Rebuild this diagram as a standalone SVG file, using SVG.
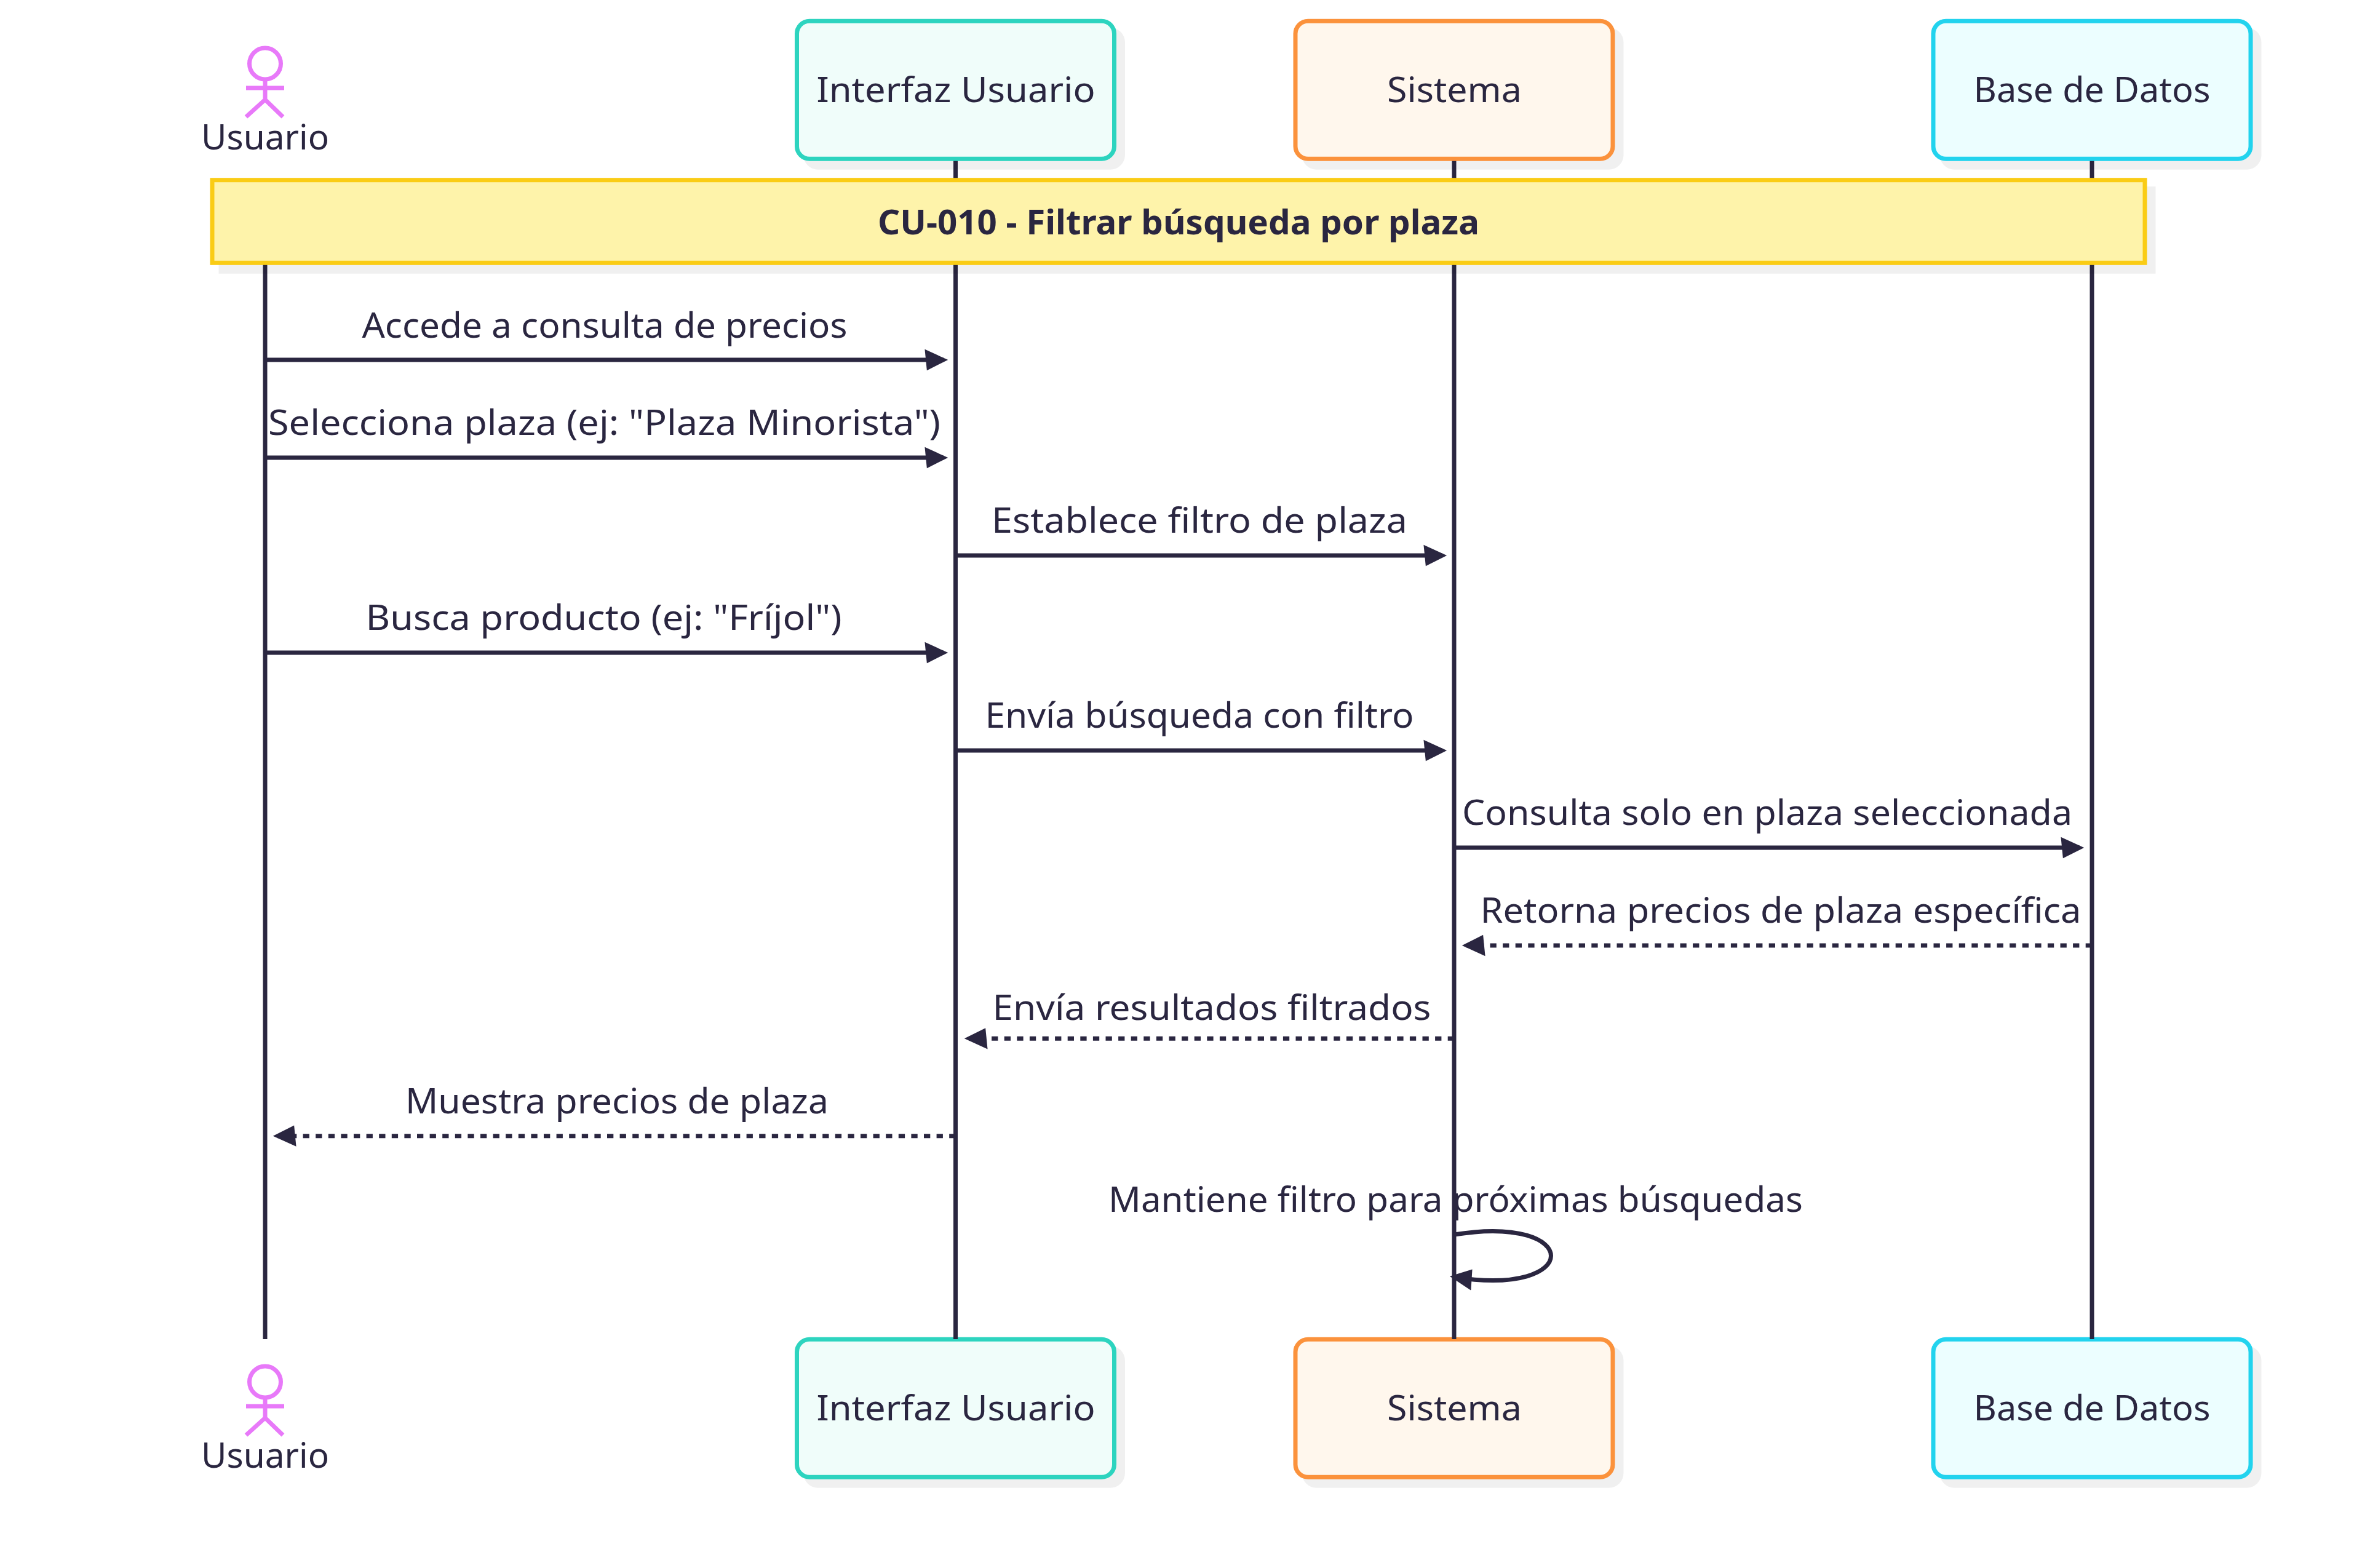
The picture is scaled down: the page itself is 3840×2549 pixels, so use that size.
<svg xmlns="http://www.w3.org/2000/svg" width="3840" height="2549" viewBox="0 0 3840 2549">
<style>
text{font-family:"Noto Sans","Open Sans","Liberation Sans",sans-serif;font-size:56px;fill:#2a2640;text-anchor:middle}
.b{font-weight:700}
.sh{fill:#000;fill-opacity:.06;stroke:none}
.life{stroke:#2a2640;stroke-width:7;fill:none}
.msg{stroke:#2a2640;stroke-width:7;fill:none;marker-end:url(#arrow)}
.dash{stroke-dasharray:10.3 10.3}
.ac{stroke:#e879f9;stroke-width:7;fill:none}
.teal{fill:#f0fdfa;stroke:#2dd4bf;stroke-width:7}
.or{fill:#fff7ed;stroke:#fb923c;stroke-width:7}
.cy{fill:#ecfeff;stroke:#22d3ee;stroke-width:7}
.note{fill:#fef3aa;stroke:#facc15;stroke-width:7}
</style>
<defs>
<marker id="arrow" viewBox="-1 0 12 10" refX="7.9" refY="5" markerUnits="userSpaceOnUse" markerWidth="41.2" markerHeight="41.2" orient="auto"><path d="M-1 0L10 5L0 10z" fill="#2a2640"/></marker>
<g id="stick"><circle cx="431" cy="103.5" r="25.5" class="ac"/><path class="ac" d="M431 129V162M400 143H462M431 162L400 190M431 162L460 190"/></g>
</defs>
<rect width="3840" height="2549" fill="#fff"/>
<g id="actor-usuario-bottom"><use href="#stick" y="2143"/><text x="431" y="2386" textLength="208" lengthAdjust="spacingAndGlyphs">Usuario</text></g>
<g id="actor-interfaz-bottom"><rect class="sh" x="1306" y="2187.8" width="523" height="231" rx="24"/><rect class="teal" x="1295.5" y="2177.3" width="516" height="224" rx="20.6"/><text x="1554" y="2308.5" textLength="453" lengthAdjust="spacingAndGlyphs">Interfaz Usuario</text></g>
<g id="actor-sistema-bottom"><rect class="sh" x="2116.5" y="2187.8" width="523" height="231" rx="24"/><rect class="or" x="2106" y="2177.3" width="516" height="224" rx="20.6"/><text x="2364.5" y="2308.5" textLength="219" lengthAdjust="spacingAndGlyphs">Sistema</text></g>
<g id="actor-bd-bottom"><rect class="sh" x="3153.5" y="2187.8" width="523" height="231" rx="24"/><rect class="cy" x="3143" y="2177.3" width="516" height="224" rx="20.6"/><text x="3401" y="2308.5" textLength="385" lengthAdjust="spacingAndGlyphs">Base de Datos</text></g>
<g id="lifelines">
<path class="life" d="M431 2177V428M1553.5 2177V261M2364 2177V261M3401 2177V261"/>
</g>
<g id="actor-usuario-top"><use href="#stick"/><text x="431" y="243" textLength="208" lengthAdjust="spacingAndGlyphs">Usuario</text></g>
<g id="actor-interfaz-top"><rect class="sh" x="1306" y="44.8" width="523" height="231" rx="24"/><rect class="teal" x="1295.5" y="34.3" width="516" height="224" rx="20.6"/><text x="1554" y="165.5" textLength="453" lengthAdjust="spacingAndGlyphs">Interfaz Usuario</text></g>
<g id="actor-sistema-top"><rect class="sh" x="2116.5" y="44.8" width="523" height="231" rx="24"/><rect class="or" x="2106" y="34.3" width="516" height="224" rx="20.6"/><text x="2364.5" y="165.5" textLength="219" lengthAdjust="spacingAndGlyphs">Sistema</text></g>
<g id="actor-bd-top"><rect class="sh" x="3153.5" y="44.8" width="523" height="231" rx="24"/><rect class="cy" x="3143" y="34.3" width="516" height="224" rx="20.6"/><text x="3401" y="165.5" textLength="385" lengthAdjust="spacingAndGlyphs">Base de Datos</text></g>
<g id="note"><rect class="sh" x="355.5" y="303.2" width="3149" height="141.6"/><rect class="note" x="345" y="292.7" width="3142" height="134.6"/><text class="b" x="1916" y="380.5" textLength="978" lengthAdjust="spacingAndGlyphs">CU-010 - Filtrar búsqueda por plaza</text></g>
<g id="connectors">
<path class="msg" d="M431 585H1534"/>
<path class="msg" d="M431 744H1534"/>
<path class="msg" d="M1553.5 903H2345"/>
<path class="msg" d="M431 1061H1534"/>
<path class="msg" d="M1553.5 1220H2345"/>
<path class="msg" d="M2364 1378H3381"/>
<path class="msg dash" d="M3401 1537H2384"/>
<path class="msg dash" d="M2364 1688.3H1575"/>
<path class="msg dash" d="M1553.5 1846.7H451"/>
<path class="msg" d="M2364 2007C2574 1973 2574 2110 2364 2076"/>
</g>
<g id="labels">
<text x="983" y="549" textLength="789" lengthAdjust="spacingAndGlyphs">Accede a consulta de precios</text>
<text x="982.5" y="707" textLength="1093" lengthAdjust="spacingAndGlyphs">Selecciona plaza (ej: "Plaza Minorista")</text>
<text x="1950" y="866" textLength="676" lengthAdjust="spacingAndGlyphs">Establece filtro de plaza</text>
<text x="981.5" y="1024" textLength="774" lengthAdjust="spacingAndGlyphs">Busca producto (ej: "Fríjol")</text>
<text x="1950" y="1183" textLength="697" lengthAdjust="spacingAndGlyphs">Envía búsqueda con filtro</text>
<text x="2873" y="1340.5" textLength="992" lengthAdjust="spacingAndGlyphs">Consulta solo en plaza seleccionada</text>
<text x="2895" y="1499.5" textLength="977" lengthAdjust="spacingAndGlyphs">Retorna precios de plaza específica</text>
<text x="1970" y="1658" textLength="713" lengthAdjust="spacingAndGlyphs">Envía resultados filtrados</text>
<text x="1003" y="1810" textLength="688" lengthAdjust="spacingAndGlyphs">Muestra precios de plaza</text>
<text x="2366.5" y="1969.5" textLength="1129" lengthAdjust="spacingAndGlyphs">Mantiene filtro para próximas búsquedas</text>
</g>
</svg>
